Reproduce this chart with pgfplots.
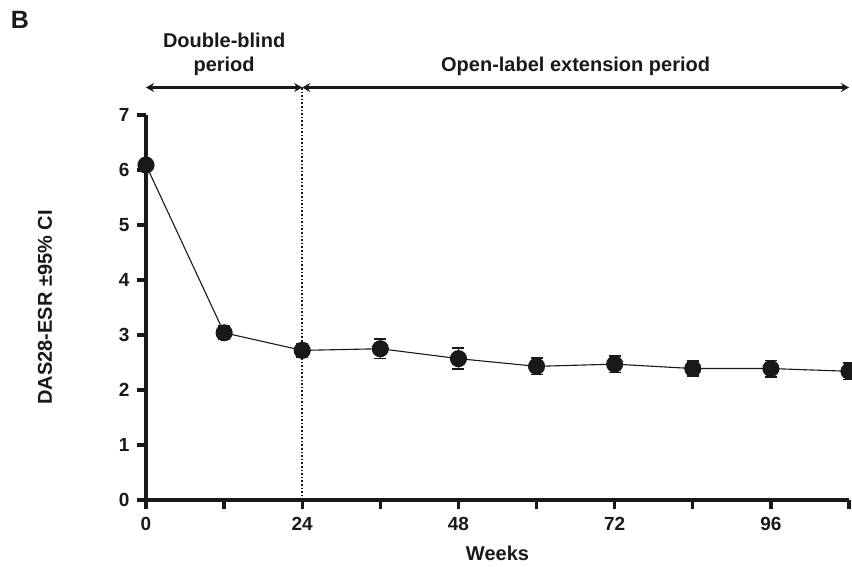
\documentclass[border=0pt]{standalone}
\usepackage{pgfplots}
\pgfplotsset{compat=1.18}
\usepackage{fontspec}
\setmainfont{Liberation Sans}
\usetikzlibrary{arrows.meta}
\begin{document}
\begin{tikzpicture}
\begin{axis}[
  name=ax,
  scale only axis,
  width=703pt, height=385pt,
  xmin=0, xmax=108, ymin=0, ymax=7,
  clip=false,
  axis x line*=bottom, axis y line*=left,
  axis line style={line width=3.6pt, black!90},
  xtick={0,12,...,108},
  xticklabels={0,,24,,48,,72,,96,},
  ytick={0,1,...,7},
  tick align=outside,
  major tick length=9pt,
  every tick/.style={line width=3.4pt, black!90},
  /pgf/number format/assume math mode=true,
  ticklabel style={font=\fontsize{19}{19}\selectfont\bfseries, black!90},
  xticklabel style={yshift=-5pt},
  yticklabel style={xshift=-4pt},
  xlabel={Weeks},
  ylabel={DAS28-ESR ±95\% CI},
  every axis x label/.style={at={(axis description cs:0.5,0)}, yshift=-53pt, anchor=center, font=\fontsize{20}{20}\selectfont\bfseries, black!90},
  every axis y label/.style={at={(axis description cs:0,0.5)}, xshift=-101pt, rotate=90, anchor=center, font=\fontsize{20}{20}\selectfont\bfseries, black!90},
]
\draw[line width=1.6pt, dotted, black!90] (axis cs:24,0) -- (axis cs:24,7.5);
\draw[line width=3.4pt, black!90, {Stealth[length=8pt,width=9pt]}-{Stealth[length=8pt,width=9pt]}] (axis cs:0,7.5) -- (axis cs:24,7.5);
\draw[line width=3.4pt, black!90, {Stealth[length=8pt,width=9pt]}-{Stealth[length=8pt,width=9pt]}] (axis cs:24,7.5) -- (axis cs:108,7.5);
\node[align=center, black!90, font=\fontsize{20}{24}\selectfont\bfseries] at (axis cs:12,8.11) {Double-blind\\period};
\node[black!90, font=\fontsize{20}{24}\selectfont\bfseries] at (axis cs:66,7.89) {Open-label extension period};
\addplot[black!90, line width=1.1pt, mark=*, mark size=8pt, mark options={fill=black!90},
  error bars/.cd, y dir=both, y explicit,
  error bar style={line width=1.5pt, black!90},
  error mark options={rotate=90, mark size=6pt, line width=1.5pt}]
  coordinates {
  (0,6.09) +- (0,0.08)
  (12,3.04) +- (0,0.12)
  (24,2.72) +- (0,0.12)
  (36,2.75) +- (0,0.18)
  (48,2.57) +- (0,0.19)
  (60,2.43) +- (0,0.15)
  (72,2.47) +- (0,0.15)
  (84,2.39) +- (0,0.14)
  (96,2.39) +- (0,0.15)
  (108,2.34) +- (0,0.15)
  };
\end{axis}
\node[black!90, font=\fontsize{25}{25}\selectfont\bfseries] at ([shift={(-126pt,95pt)}]ax.north west) {B};
\pgfresetboundingbox
\path ([shift={(-146pt,-67pt)}]ax.south west) rectangle ([shift={(3pt,115pt)}]ax.north east);
\end{tikzpicture}
\end{document}
